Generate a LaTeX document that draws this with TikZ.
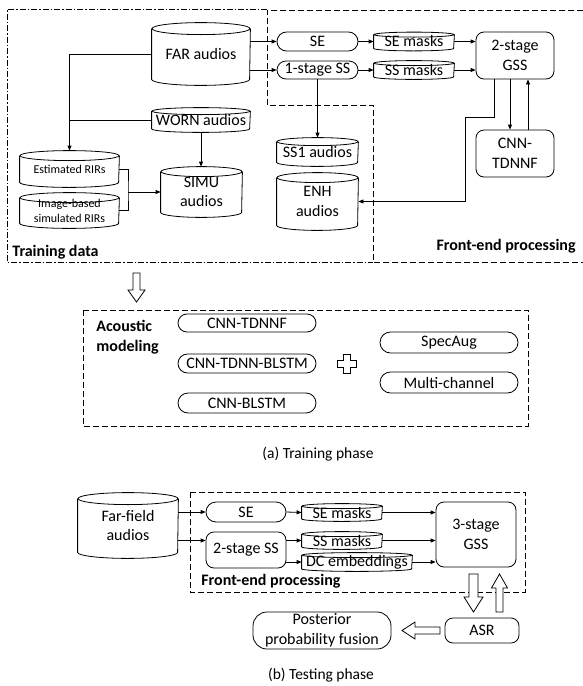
\documentclass[tikz,border=0pt]{standalone}
\usepackage{fontspec}
\setmainfont{Carlito}
\usetikzlibrary{shapes.misc,arrows.meta,calc}
\newcommand\cylshape[3]{%
  \draw ($(#1.north west)+(0,#3)$) -- ($(#1.south west)+(0,-#3)$)
     arc[start angle=180,end angle=0,x radius=#2,y radius=#3] -- ($(#1.north east)+(0,#3)$);
  \draw ($(#1.north)+(0,#3)$) ellipse[x radius=#2,y radius=#3];}
\tikzset{
 base/.style={inner sep=0pt, align=center, font=\fontsize{16}{19.5}\selectfont},
 sz/.style 2 args={minimum width=#1pt, minimum height=#2pt},
 pill/.style={base, draw, rounded rectangle},
 rbox/.style={base, draw, rounded corners=8pt},
 cyl/.style={base},
 small/.style={font=\fontsize{12}{15}\selectfont},
 boldlbl/.style={inner sep=0pt, align=left, font=\fontsize{16}{19.5}\selectfont\bfseries},
 caption/.style={inner sep=0pt, font=\fontsize{15.5}{19}\selectfont},
 arr/.style={-{Triangle[length=5pt,width=4pt]}},
 fedash/.style={dash pattern=on 6pt off 3pt},
 tddash/.style={dash pattern=on 6pt off 2pt on 1.5pt off 2pt},
 hollow/.style={draw, fill=white, line join=miter},
}
\begin{document}
\begin{tikzpicture}[x=1pt,y=-1pt,line width=0.8pt]
\useasboundingbox (0,0) rectangle (583,686);

% ---------- frames (training phase) ----------
\draw[tddash] (267,9) -- (7,9) -- (7,262) -- (373,262);
\draw[fedash] (583,10) -- (267,10) -- (267,105) -- (373,105) -- (373,262) -- (583,262);
\node[boldlbl, anchor=west] (tdlbl) at (12,252) {Training data};
\node[boldlbl, anchor=east] (felbl) at (576,246) {Front-end processing};

% ---------- cylinders ----------
\node[cyl, sz={98}{62}] (far) at (201,54) {FAR audios};
\cylshape{far}{49}{6}
\node[cyl, sz={98}{24}] (worn) at (201,120) {WORN audios};
\cylshape{worn}{49}{3.5}
\node[cyl, small, sz={99}{36}] (est) at (69.5,169) {Estimated RIRs};
\cylshape{est}{49.5}{5}
\node[cyl, small, sz={99}{35}] (img) at (69.5,210.5) {Image-based\\simulated RIRs};
\cylshape{img}{49.5}{5}
\node[cyl, sz={81}{50}] (simu) at (201.5,192) {SIMU\\audios};
\cylshape{simu}{40.5}{5}
\node[cyl, sz={81}{28}] (ss1) at (317.5,152) {SS1 audios};
\cylshape{ss1}{40.5}{4}
\node[cyl, sz={81}{57}] (enh) at (317.5,201.5) {ENH\\audios};
\cylshape{enh}{40.5}{5}
\node[cyl, sz={80}{18}] (semask) at (414,41.5) {SE masks};
\cylshape{semask}{40}{2.5}
\node[cyl, sz={80}{18}] (ssmask) at (414,70) {SS masks};
\cylshape{ssmask}{40}{2.5}

% ---------- processing boxes ----------
\node[pill, sz={81}{19}] (se) at (317.5,41.5) {SE};
\node[pill, sz={81}{18}] (ssone) at (317.5,70) {1-stage SS};
\node[rbox, sz={78}{47}] (gsstwo) at (515,55.5) {2-stage\\GSS};
\node[rbox, sz={78}{47}] (cnnf) at (515,153.5) {CNN-\\TDNNF};

% ---------- connectors (training) ----------
\draw[arr] (far.east |- se.west) -- (se.west);
\draw[arr] (far.east |- ssone.west) -- (ssone.west);
\draw[arr] (se.east) -- (semask.west);
\draw[arr] (ssone.east) -- (ssmask.west);
\draw[arr] (semask.east) -- (semask.east -| gsstwo.west);
\draw[arr] (ssmask.east) -- (ssmask.east -| gsstwo.west);
\draw[arr] (far.west) -| (est.north);
\draw (worn.west) -- (worn.west -| est.north);
\draw[arr] (worn.south) -- (worn.south |- simu.north);
\coordinate (j) at (128,192);
\draw (est.east) -| (j) |- (img.east);
\draw[arr] (j) -- (simu.west);
\draw[arr] (ssone.south) -- (ss1.north);
\draw[arr] ([xshift=-5pt]gsstwo.south) -- ([xshift=-5pt]cnnf.north);
\draw[arr] ([xshift=13pt]cnnf.north) -- ([xshift=13pt]gsstwo.south);
\coordinate (k) at (465,117);
\draw[arr] ([xshift=-21pt]gsstwo.south) |- (k) |- (enh.east);

% ---------- acoustic modeling ----------
\draw[hollow] (133,273) -- (140,273) -- (140,290) -- (145,290) -- (136.5,302) -- (128,290) -- (133,290) -- cycle;
\draw[fedash] (83,310) rectangle (528,426);
\node[boldlbl, anchor=west] (amlbl) at (96,337) {Acoustic\\modeling};
\node[pill, sz={138}{18}] (am1) at (247,323) {CNN-TDNNF};
\node[pill, sz={138}{19}] (am2) at (247,363.5) {CNN-TDNN-BLSTM};
\node[pill, sz={138}{20}] (am3) at (247,403) {CNN-BLSTM};
\draw[hollow] (343,354) -- (350,354) -- (350,360) -- (356,360) -- (356,367) -- (350,367) -- (350,373) -- (343,373) -- (343,367) -- (337,367) -- (337,360) -- (343,360) -- cycle;
\node[pill, sz={138}{21}] (spec) at (449,342.5) {SpecAug};
\node[pill, sz={138}{21}] (mch) at (449,382.5) {Multi-channel};
\node[caption] (capa) at (318,454) {(a) Training phase};

% ---------- testing phase ----------
\draw[fedash] (190,492) rectangle (525,592);
\node[cyl, sz={100}{65}] (ff) at (128,525.5) {Far-field\\audios};
\cylshape{ff}{50}{6}
\node[pill, sz={80}{20}] (setest) at (246,512) {SE};
\node[rbox, sz={80}{36}] (sstwo) at (246,550) {2-stage SS};
\node[cyl, sz={80}{17}] (semasktest) at (342,512.5) {SE masks};
\cylshape{semasktest}{40}{2.5}
\node[cyl, sz={80}{17}] (ssmasktest) at (342,540.5) {SS masks};
\cylshape{ssmasktest}{40}{2.5}
\node[cyl, sz={110}{18}] (dc) at (357,562) {DC embeddings};
\cylshape{dc}{55}{2.5}
\node[rbox, sz={80}{65}] (gssthree) at (476,534.5) {3-stage\\GSS};
\node[boldlbl, anchor=west] (fetest) at (201,581) {Front-end processing};

\draw[arr] (ff.east |- setest.west) -- (setest.west);
\draw[arr] (ff.east |- ssmasktest.west) -- (ssmasktest.west -| sstwo.west);
\draw[arr] (setest.east) -- (semasktest.west);
\draw[arr] (sstwo.east |- ssmasktest.west) -- (ssmasktest.west);
\draw[arr] (sstwo.east |- dc.west) -- (dc.west);
\draw[arr] (semasktest.east) -- (semasktest.east -| gssthree.west);
\draw[arr] (ssmasktest.east) -- (ssmasktest.east -| gssthree.west);
\draw[arr] (dc.east) -- (dc.east -| gssthree.west);

\node[rbox, sz={74}{25}] (asr) at (482,630.5) {ASR};
\node[base, draw, rounded corners=14pt, sz={138}{37}] (post) at (322,630.5) {Posterior\\probability fusion};
\draw[hollow] (469,574) -- (478,574) -- (478,597) -- (483,597) -- (473.5,612) -- (464,597) -- (469,597) -- cycle;
\draw[hollow] (496,612) -- (503,612) -- (503,588) -- (507.5,588) -- (499.5,574) -- (491.5,588) -- (496,588) -- cycle;
\draw[hollow] (440,627) -- (440,634) -- (415,634) -- (415,639) -- (402,630.5) -- (415,622) -- (415,627) -- cycle;
\node[caption] (capb) at (321,675) {(b) Testing phase};
\end{tikzpicture}
\end{document}
